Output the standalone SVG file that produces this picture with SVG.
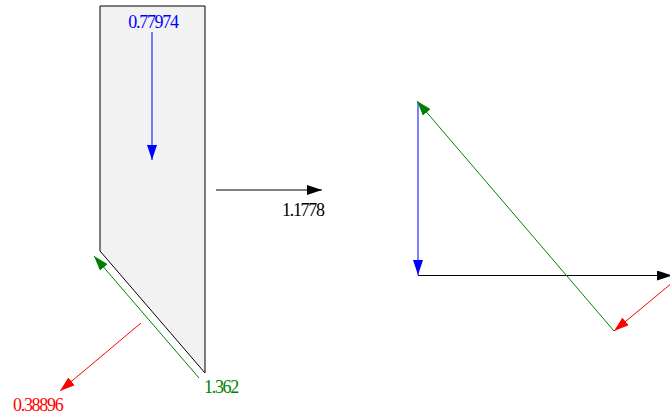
<svg xmlns="http://www.w3.org/2000/svg" width="670" height="415" viewBox="0 0 670 415">
<style>
text{font-family:"Liberation Serif","Times New Roman",serif;font-size:18px;letter-spacing:-1.3px}
.c line{stroke-width:1;fill:none}
</style>
<defs>
<marker id="mb" markerUnits="userSpaceOnUse" markerWidth="15" markerHeight="10" refX="15" refY="5" orient="auto"><path d="M0,0L15,5L0,10z" fill="blue"/></marker>
<marker id="mk" markerUnits="userSpaceOnUse" markerWidth="15" markerHeight="10" refX="15" refY="5" orient="auto"><path d="M0,0L15,5L0,10z" fill="black"/></marker>
<marker id="mg" markerUnits="userSpaceOnUse" markerWidth="15" markerHeight="10" refX="15" refY="5" orient="auto"><path d="M0,0L15,5L0,10z" fill="green"/></marker>
<marker id="mr" markerUnits="userSpaceOnUse" markerWidth="15" markerHeight="10" refX="15" refY="5" orient="auto"><path d="M0,0L15,5L0,10z" fill="red"/></marker>
</defs>
<g id="body"><polygon points="100,6 205,6 205,373 100,251" fill="#f2f2f2" stroke="black" stroke-width="1"/></g>
<g class="c" id="connectors">
<line x1="152" y1="32" x2="152" y2="160" stroke="blue" marker-end="url(#mb)"/>
<line x1="216" y1="190" x2="322" y2="190" stroke="black" marker-end="url(#mk)"/>
<line x1="199" y1="378" x2="94" y2="256" stroke="green" marker-end="url(#mg)"/>
<line x1="141" y1="323" x2="60" y2="391" stroke="red" marker-end="url(#mr)"/>
<line x1="418" y1="102" x2="418" y2="275" stroke="blue" marker-end="url(#mb)"/>
<line x1="418" y1="275.5" x2="672" y2="275.5" stroke="black" marker-end="url(#mk)"/>
<line x1="614" y1="331" x2="417" y2="101" stroke="green" marker-end="url(#mg)"/>
<line x1="672" y1="283" x2="614" y2="331" stroke="red" marker-end="url(#mr)"/>
</g>
<g id="labels">
<text x="153" y="28" fill="blue" text-anchor="middle">0.77974</text>
<text x="282" y="216" fill="black">1.1778</text>
<text x="204" y="393" fill="green">1.362</text>
<text x="13" y="411" fill="red">0.38896</text>
</g>
</svg>
